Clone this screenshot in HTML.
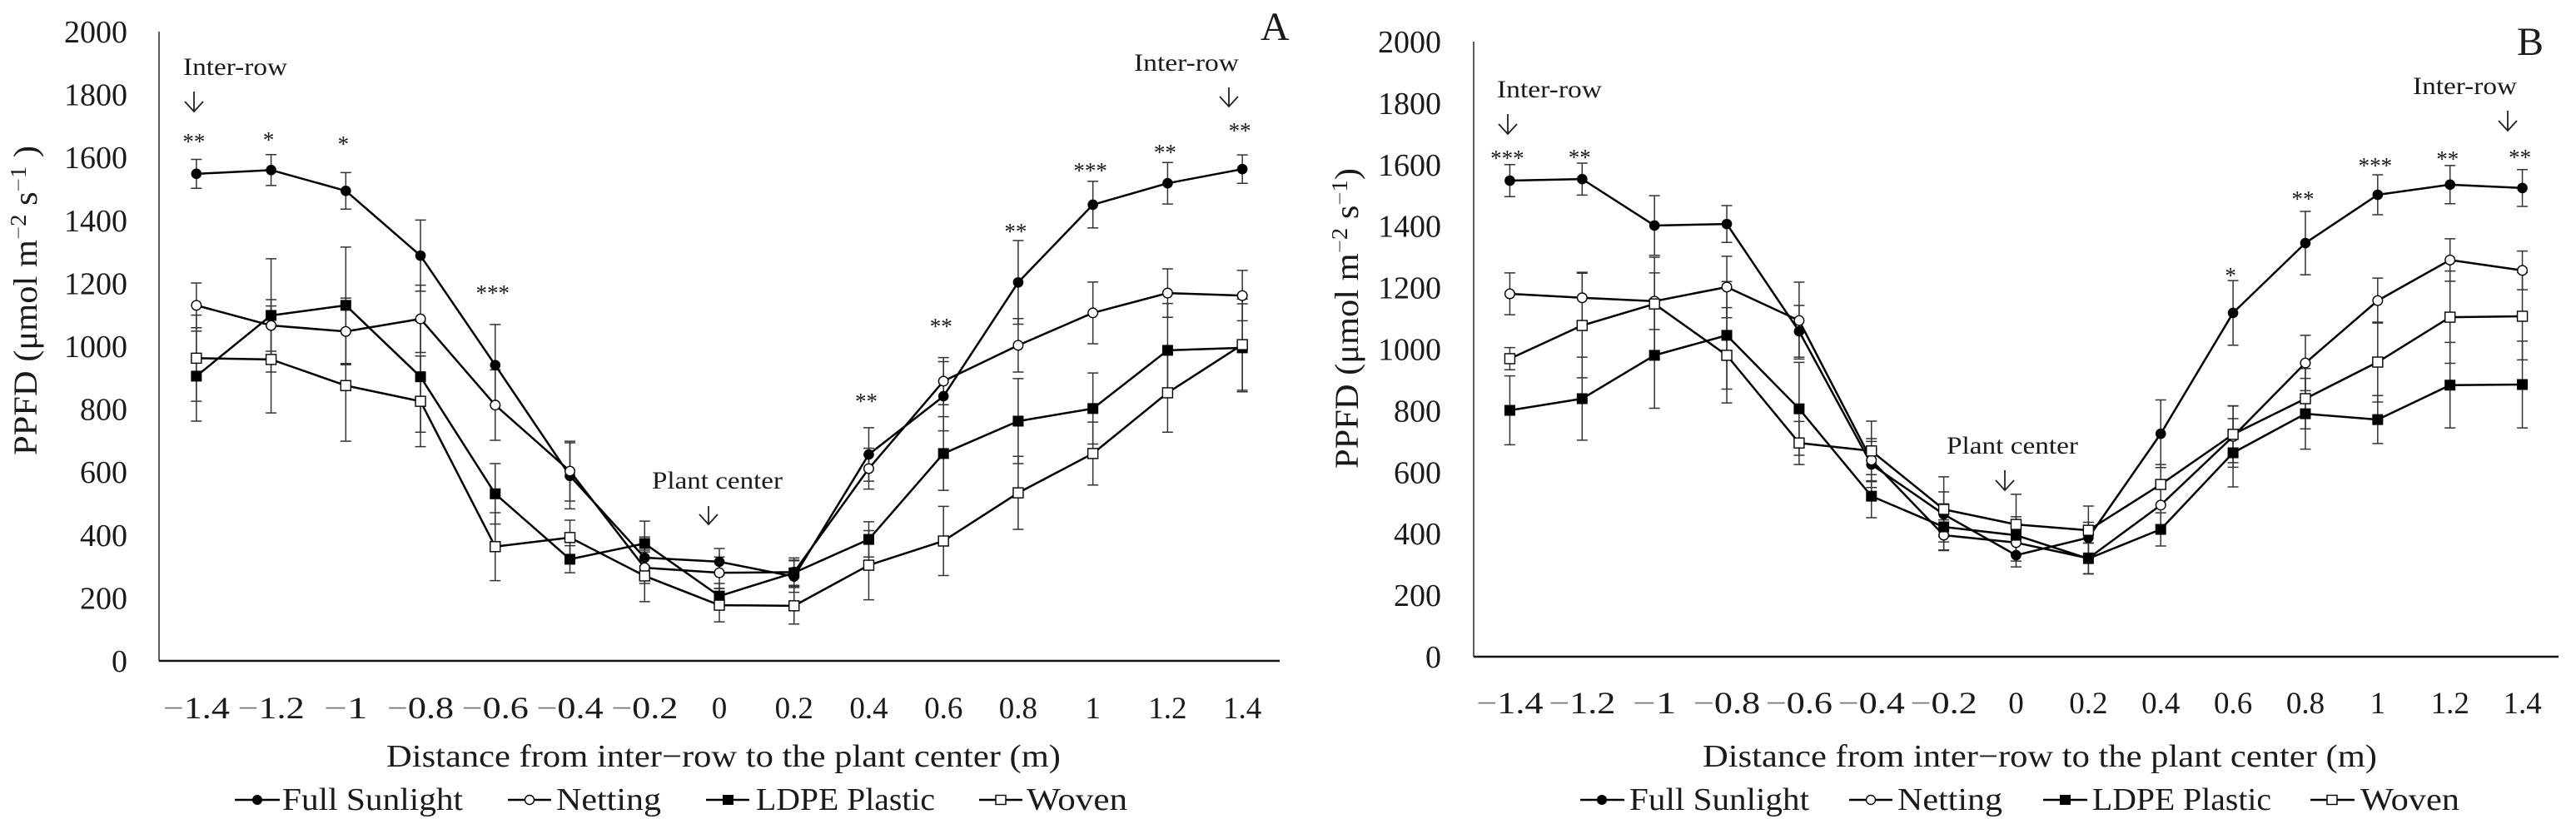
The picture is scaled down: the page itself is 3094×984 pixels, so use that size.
<!DOCTYPE html>
<html lang="en">
<head>
<meta charset="utf-8">
<title>PPFD by distance from inter-row to plant center</title>
<style>
  html,body{margin:0;padding:0;background:#fff;}
  svg{display:block;}
  text{font-family:"Liberation Serif",serif;fill:#1a1a1a;}
</style>
</head>
<body>
<svg id="figure" xmlns="http://www.w3.org/2000/svg" width="3094" height="984" viewBox="0 0 3094 984">
  <rect width="3094" height="984" fill="#fff"/>
  <g id="panel-a"></g>
  <g id="panel-b"></g>

  <text transform="translate(44,547) rotate(-90)" font-size="40" textLength="372" lengthAdjust="spacingAndGlyphs">PPFD (μmol m<tspan dy="-13" font-size="27" fill="#666">−</tspan><tspan font-size="27">2</tspan><tspan dy="13"> s</tspan><tspan dy="-13" font-size="27" fill="#666">−</tspan><tspan font-size="27">1</tspan><tspan dy="13"> )</tspan></text>
  <text transform="translate(1631,563) rotate(-90)" font-size="40" textLength="361" lengthAdjust="spacingAndGlyphs">PPFD (μmol m<tspan dy="-13" font-size="27" fill="#666">−</tspan><tspan font-size="27">2</tspan><tspan dy="13"> s</tspan><tspan dy="-13" font-size="27" fill="#666">−</tspan><tspan font-size="27">1</tspan><tspan dy="13">)</tspan></text>

  <text x="464" y="921" font-size="38" textLength="810" lengthAdjust="spacingAndGlyphs">Distance from inter−row to the plant center (m)</text>
  <text x="2045" y="921" font-size="38" textLength="810" lengthAdjust="spacingAndGlyphs">Distance from inter−row to the plant center (m)</text>

  <text x="1514" y="48" font-size="48">A</text>
  <text x="3023" y="66" font-size="48">B</text>

  <g>
    <text x="220" y="90" font-size="30" textLength="125" lengthAdjust="spacingAndGlyphs">Inter-row</text>
    <path d="M233 110V134M222 122L233 134L244 122" fill="none" stroke="#222" stroke-width="1.8"/>
    <text x="1362" y="85" font-size="30" textLength="126" lengthAdjust="spacingAndGlyphs">Inter-row</text>
    <path d="M1476 105V128M1465 116L1476 128L1487 116" fill="none" stroke="#222" stroke-width="1.8"/>
    <text x="783" y="587" font-size="30" textLength="157" lengthAdjust="spacingAndGlyphs">Plant center</text>
    <path d="M851 608V630M840 618L851 630L862 618" fill="none" stroke="#222" stroke-width="1.8"/>
  </g>
  <g>
    <text x="1798" y="117" font-size="30" textLength="126" lengthAdjust="spacingAndGlyphs">Inter-row</text>
    <path d="M1811 137V161M1800 149L1811 161L1822 149" fill="none" stroke="#222" stroke-width="1.8"/>
    <text x="2898" y="113" font-size="30" textLength="125" lengthAdjust="spacingAndGlyphs">Inter-row</text>
    <path d="M3012 133V157M3001 145L3012 157L3023 145" fill="none" stroke="#222" stroke-width="1.8"/>
    <text x="2338" y="545" font-size="30" textLength="158" lengthAdjust="spacingAndGlyphs">Plant center</text>
    <path d="M2408 565V589M2397 577L2408 589L2419 577" fill="none" stroke="#222" stroke-width="1.8"/>
  </g>

  <g>
    <g>
      <line x1="282" x2="336" y1="961" y2="961" stroke="#000" stroke-width="2.4"/><circle cx="309" cy="961" r="6" fill="#000"/>
      <text x="339" y="973" font-size="38" textLength="217" lengthAdjust="spacingAndGlyphs">Full Sunlight</text>
    </g>
    <g>
      <line x1="610" x2="662" y1="961" y2="961" stroke="#000" stroke-width="2.4"/><circle cx="636" cy="961" r="5.5" fill="#fff" stroke="#000" stroke-width="1.4"/>
      <text x="668" y="973" font-size="38" textLength="126" lengthAdjust="spacingAndGlyphs">Netting</text>
    </g>
    <g>
      <line x1="848" x2="900" y1="961" y2="961" stroke="#000" stroke-width="2.4"/><rect x="868" y="955" width="13" height="12" fill="#000"/>
      <text x="908" y="973" font-size="38" textLength="215" lengthAdjust="spacingAndGlyphs">LDPE Plastic</text>
    </g>
    <g>
      <line x1="1176" x2="1228" y1="961" y2="961" stroke="#000" stroke-width="2.4"/><rect x="1196" y="955.5" width="12" height="11" fill="#fff" stroke="#000" stroke-width="1.4"/>
      <text x="1233" y="973" font-size="38" textLength="121" lengthAdjust="spacingAndGlyphs">Woven</text>
    </g>
  </g>
  <g>
    <g>
      <line x1="1898" x2="1951" y1="961" y2="961" stroke="#000" stroke-width="2.4"/><circle cx="1924" cy="961" r="6" fill="#000"/>
      <text x="1957" y="973" font-size="38" textLength="216" lengthAdjust="spacingAndGlyphs">Full Sunlight</text>
    </g>
    <g>
      <line x1="2221" x2="2273" y1="961" y2="961" stroke="#000" stroke-width="2.4"/><circle cx="2247" cy="961" r="5.5" fill="#fff" stroke="#000" stroke-width="1.4"/>
      <text x="2279" y="973" font-size="38" textLength="126" lengthAdjust="spacingAndGlyphs">Netting</text>
    </g>
    <g>
      <line x1="2454" x2="2507" y1="961" y2="961" stroke="#000" stroke-width="2.4"/><rect x="2474" y="955" width="13" height="12" fill="#000"/>
      <text x="2513" y="973" font-size="38" textLength="215" lengthAdjust="spacingAndGlyphs">LDPE Plastic</text>
    </g>
    <g>
      <line x1="2775" x2="2828" y1="961" y2="961" stroke="#000" stroke-width="2.4"/><rect x="2795" y="955.5" width="12" height="11" fill="#fff" stroke="#000" stroke-width="1.4"/>
      <text x="2835" y="973" font-size="38" textLength="119" lengthAdjust="spacingAndGlyphs">Woven</text>
    </g>
  </g>
</svg>

<script>
const categories = ['−1.4','−1.2','−1','−0.8','−0.6','−0.4','−0.2','0','0.2','0.4','0.6','0.8','1','1.2','1.4'];
const yTicks = [0,200,400,600,800,1000,1200,1400,1600,1800,2000];
const seriesNames = ['full-sunlight','netting','ldpe-plastic','woven'];

const aFullSun    = [1548,1560,1494,1288,940,588,328,315,268,656,841,1203,1450,1518,1563];
const aFullSunErr = [46,49,58,113,129,105,66,42,50,85,110,133,74,66,45];
const aNetting    = [1130,1066,1047,1087,813,603,296,280,282,611,889,1003,1106,1169,1161];
const aNettingErr = [71,82,106,107,112,95,50,50,45,65,75,85,98,77,80];
const aLdpe       = [905,1098,1130,903,531,323,373,206,280,386,659,762,802,987,995];
const aLdpeErr    = [143,180,185,176,96,43,71,40,40,56,117,135,113,149,140];
const aWoven      = [962,958,875,825,363,392,270,177,175,304,381,534,659,852,1005];
const aWovenErr   = [137,170,177,144,108,55,82,53,58,110,110,116,100,125,145];
const aStars      = ['**','*','*','','***','','','','','**','**','**','***','**','**'];
const aStarLevels = [1659,1664,1651,null,1177,null,null,null,null,833,1071,1373,1566,1624,1693];

const bFullSun    = [1548,1553,1402,1407,1058,625,463,330,387,725,1118,1345,1502,1535,1524];
const bFullSunErr = [52,52,97,60,84,75,73,38,50,110,105,103,65,62,60];
const bNetting    = [1180,1167,1156,1202,1093,639,395,371,320,493,716,955,1158,1290,1256];
const bNettingErr = [68,83,92,100,125,70,50,60,50,65,100,90,73,69,63];
const bLdpe       = [801,839,980,1045,806,522,422,395,319,414,663,790,771,883,885];
const bLdpeErr    = [112,135,172,175,151,70,75,60,50,54,111,115,78,139,141];
const bWoven      = [969,1077,1147,980,695,669,479,430,411,560,723,839,958,1104,1107];
const bWovenErr   = [36,170,152,155,70,97,106,98,79,65,92,98,130,150,142];
const bStars      = ['***','**','','','','','','','','','*','**','***','**','**'];
const bStarLevels = [1629,1632,null,null,null,null,null,null,null,null,1248,1496,1605,1626,1632];

const SVGNS = 'http://www.w3.org/2000/svg';
function mk(tag, attrs, parent) {
  const el = document.createElementNS(SVGNS, tag);
  for (const k in attrs) el.setAttribute(k, attrs[k]);
  parent.appendChild(el);
  return el;
}

function drawPanel(rootId, frame, values, errors, stars, starLevels) {
  const root = document.getElementById(rootId);
  const band = (frame.right - frame.left) / categories.length;
  const xScale = i => frame.left + band * (i + 0.5);
  const yScale = v => frame.bottom - (v / 2000) * (frame.bottom - frame.top);

  const yAxis = mk('line', {x1: frame.left, x2: frame.left, y1: frame.top, y2: frame.bottom, stroke: '#333', 'stroke-width': 1.6}, root);
  
  
  const xAxis = mk('line', {x1: frame.left, x2: frame.right, y1: frame.bottom, y2: frame.bottom, stroke: '#111', 'stroke-width': 2.4}, root);
  
  

  yTicks.forEach(t => {
    const label = mk('text', {x: frame.yLabelRight, y: yScale(t) + 13, 'font-size': 38, 'text-anchor': 'end'}, root);
    label.textContent = String(t);
    
    
  });

  categories.forEach((c, i) => {
    const label = mk('text', {x: xScale(i), y: frame.xLabelBaseline, 'font-size': 37, 'text-anchor': 'middle'}, root);
    
    
    if (c.charAt(0) === '−') {
      const dash = mk('tspan', {fill: '#777'}, label);
      dash.textContent = '−';
      const rest = mk('tspan', {}, label);
      rest.textContent = c.slice(1);
      const natural = label.getComputedTextLength();
      label.setAttribute('textLength', natural + 13);
      label.setAttribute('lengthAdjust', 'spacingAndGlyphs');
    } else {
      label.textContent = c;
    }
  });

  values.forEach((series, s) => {
    const bars = mk('g', {stroke: '#333', 'stroke-width': 1.5}, root);
    
    
    series.forEach((v, i) => {
      const x = xScale(i);
      const hi = yScale(v + errors[s][i]);
      const lo = yScale(v - errors[s][i]);
      const bar = mk('path', {d: 'M' + (x - 6.5) + ' ' + hi + 'H' + (x + 6.5) + 'M' + x + ' ' + hi + 'V' + lo + 'M' + (x - 6.5) + ' ' + lo + 'H' + (x + 6.5), fill: 'none'}, bars);
      
      
    });
  });

  values.forEach((series, s) => {
    const pts = series.map((v, i) => xScale(i) + ',' + yScale(v)).join(' ');
    const line = mk('polyline', {points: pts, fill: 'none', stroke: '#000', 'stroke-width': 2.5, 'stroke-linejoin': 'round'}, root);
    
    
  });

  values.forEach((series, s) => {
    series.forEach((v, i) => {
      const x = xScale(i);
      const y = yScale(v);
      let marker;
      if (s === 0) marker = mk('circle', {cx: x, cy: y, r: 6.3, fill: '#000'}, root);
      if (s === 1) marker = mk('circle', {cx: x, cy: y, r: 5.8, fill: '#fff', stroke: '#000', 'stroke-width': 1.4}, root);
      if (s === 2) marker = mk('rect', {x: x - 6.5, y: y - 6.5, width: 13, height: 13, fill: '#000'}, root);
      if (s === 3) marker = mk('rect', {x: x - 6, y: y - 6, width: 12, height: 12, fill: '#fff', stroke: '#000', 'stroke-width': 1.4}, root);
      
      
    });
  });

  stars.forEach((mark, i) => {
    if (!mark) return;
    const star = mk('text', {x: xScale(i) - 3, y: yScale(starLevels[i]) + 12, 'font-size': 27, 'text-anchor': 'middle'}, root);
    star.textContent = mark;
    
    
  });
}

drawPanel('panel-a',
  {left: 191, right: 1537, top: 38, bottom: 794, yLabelRight: 153, xLabelBaseline: 863},
  [aFullSun, aNetting, aLdpe, aWoven],
  [aFullSunErr, aNettingErr, aLdpeErr, aWovenErr],
  aStars, aStarLevels);

drawPanel('panel-b',
  {left: 1770, right: 3073, top: 50, bottom: 789, yLabelRight: 1731, xLabelBaseline: 857},
  [bFullSun, bNetting, bLdpe, bWoven],
  [bFullSunErr, bNettingErr, bLdpeErr, bWovenErr],
  bStars, bStarLevels);
</script>
</body>
</html>
